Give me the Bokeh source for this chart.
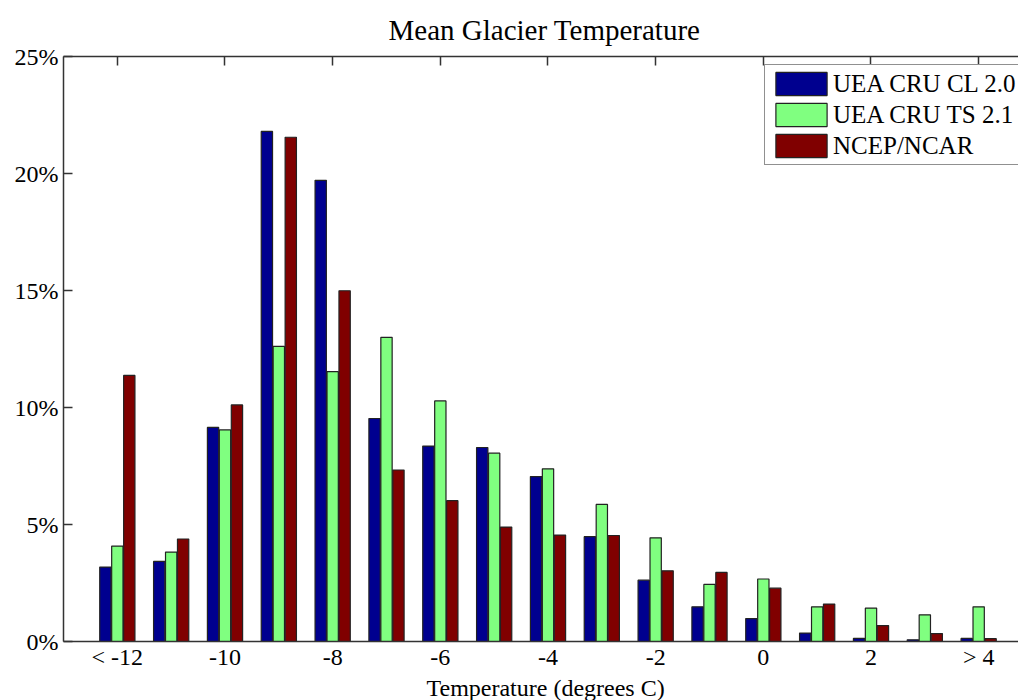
from bokeh.plotting import figure
from bokeh.models import (Range1d, FixedTicker, PrintfTickFormatter, LinearAxis,
                          Legend, LegendItem, Title)
from bokeh.embed import file_html
from bokeh.resources import INLINE

# Temperature bins (degrees C) and share of glacier area per bin (%)
temp_bins = ["< -12", "-11", "-10", "-9", "-8", "-7", "-6", "-5", "-4",
             "-3", "-2", "-1", "0", "1", "2", "3", "> 4"]
series_names = ["UEA CRU CL 2.0", "UEA CRU TS 2.1", "NCEP/NCAR"]
cru_cl = [3.18, 3.42, 9.15, 21.80, 19.71, 9.53, 8.35, 8.29, 7.05, 4.48,
          2.62, 1.48, 0.98, 0.36, 0.13, 0.07, 0.13]
cru_ts = [4.08, 3.82, 9.04, 12.61, 11.53, 13.00, 10.28, 8.05, 7.38, 5.86,
          4.43, 2.44, 2.67, 1.48, 1.43, 1.14, 1.48]
ncep = [11.37, 4.38, 10.11, 21.55, 14.99, 7.33, 6.02, 4.89, 4.55, 4.53,
        3.02, 2.95, 2.28, 1.60, 0.68, 0.34, 0.12]
y_ticks = [0, 5, 10, 15, 20, 25]

colors = ["#00008F", "#80FF80", "#800000"]
FONT = "Liberation Serif"
AX = "#333333"

p = figure(width=1018, height=700, output_backend="svg", toolbar_location=None,
           x_range=Range1d(-1, 16.74), y_range=Range1d(0, 25),
           min_border_left=63, min_border_right=0, min_border_top=56,
           min_border_bottom=58, background_fill_color="white",
           border_fill_color="white", outline_line_color=None)

p.title.text = "Mean Glacier Temperature"
p.title.text_font = FONT
p.title.text_font_size = "29px"
p.title.text_font_style = "normal"
p.title.text_color = "black"
p.title.align = "left"
p.title.offset = 325
p.title.standoff = 21

p.xgrid.visible = False
p.ygrid.visible = False

idx = list(range(len(temp_bins)))
offsets = [-0.222, 0.0, 0.222]
renderers = []
for vals, off, col in zip([cru_cl, cru_ts, ncep], offsets, colors):
    r = p.vbar(x=[i + off for i in idx], top=vals, bottom=0, width=0.21,
               fill_color=col, line_color="#222222", line_width=1.2)
    renderers.append(r)

label_ticks = idx[::2]

# bottom axis: labels only (tick marks sit behind the bars)
xa = p.xaxis[0]
xa.ticker = FixedTicker(ticks=label_ticks)
xa.major_label_overrides = {i: temp_bins[i] for i in label_ticks}
xa.major_tick_line_color = None
xa.major_tick_out = 0
xa.major_tick_in = 0
xa.minor_tick_line_color = None
xa.axis_line_color = AX
xa.axis_line_width = 1.5
xa.major_label_text_font = FONT
xa.major_label_text_font_size = "24px"
xa.major_label_text_color = "black"
xa.major_label_standoff = 2

# left axis
ya = p.yaxis[0]
ya.ticker = FixedTicker(ticks=y_ticks)
ya.formatter = PrintfTickFormatter(format="%d%%")
ya.major_tick_in = 9
ya.major_tick_out = 0
ya.minor_tick_line_color = None
ya.axis_line_color = AX
ya.axis_line_width = 1.5
ya.major_tick_line_color = AX
ya.major_tick_line_width = 1.5
ya.major_label_text_font = FONT
ya.major_label_text_font_size = "24px"
ya.major_label_text_color = "black"
ya.major_label_standoff = 5

# top axis: inward ticks, no labels
top = LinearAxis(ticker=FixedTicker(ticks=label_ticks), major_tick_in=9,
                 major_tick_out=0, minor_tick_line_color=None,
                 major_label_overrides={i: "" for i in label_ticks},
                 axis_line_color=AX, axis_line_width=1.5,
                 major_tick_line_color=AX, major_tick_line_width=1.5,
                 major_label_standoff=0)
p.add_layout(top, "above")

xlabel = Title(text="Temperature (degrees C)", text_font=FONT,
               text_font_size="24px", text_font_style="normal",
               text_color="black", align="left", offset=363, standoff=0)
p.add_layout(xlabel, "below")

legend = Legend(items=[LegendItem(label=n, renderers=[r])
                       for n, r in zip(series_names, renderers)],
                location=(701, 476), glyph_width=64, glyph_height=29,
                label_text_font=FONT, label_text_font_size="25px",
                label_text_color="black", label_standoff=0, padding=4,
                spacing=2, margin=0, border_line_color="#222222",
                border_line_width=1.5, background_fill_color="white",
                background_fill_alpha=1.0)
p.add_layout(legend)

open("out.html", "w").write(file_html(p, INLINE))
